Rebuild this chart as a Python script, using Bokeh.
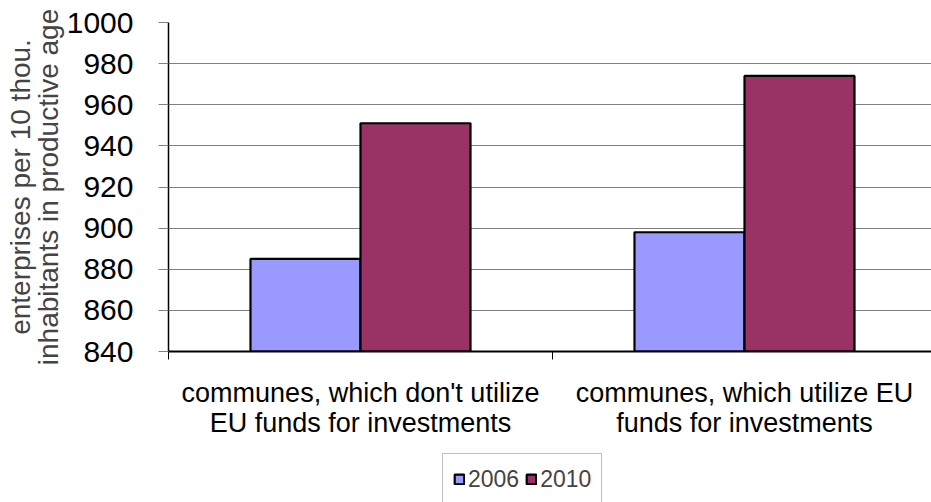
from bokeh.plotting import figure
from bokeh.layouts import column
from bokeh.models import Range1d, FixedTicker, ColumnDataSource, Legend, LegendItem
from bokeh.transform import dodge
from bokeh.embed import file_html
from bokeh.resources import INLINE

categories = ["communes, which don't utilize\nEU funds for investments",
              "communes, which utilize EU\nfunds for investments"]
years = ["2006", "2010"]
values_2006 = [885, 898]
values_2010 = [951, 974]
y_ticks = [840, 860, 880, 900, 920, 940, 960, 980, 1000]
y_title = "enterprises per 10 thou.\ninhabitants in productive age"

colors = ["#9999FF", "#993366"]
FONT = "Liberation Sans"

xpos = [i + 0.5 for i in range(len(categories))]
src = ColumnDataSource(dict(x=xpos, y2006=values_2006, y2010=values_2010))

p = figure(width=931, height=445, output_backend="svg", toolbar_location=None,
           x_range=Range1d(0, 1.987), y_range=Range1d(y_ticks[0], y_ticks[-1]),
           min_border_left=168, min_border_right=0, min_border_top=22,
           min_border_bottom=94)
p.outline_line_color = None
p.background_fill_color = "white"
p.border_fill_color = "white"

bw = 0.2865


def bars(fig, rng):
    rs = []
    for col, off, c in (("y2006", -bw / 2, colors[0]), ("y2010", bw / 2, colors[1])):
        rs.append(fig.vbar(x=dodge('x', off, range=rng), top=col, bottom=y_ticks[0],
                           width=bw, source=src, fill_color=c, line_color="black",
                           line_width=2.2))
    return rs


bars(p, p.x_range)

# y axis
p.yaxis.ticker = FixedTicker(ticks=y_ticks, minor_ticks=[])
p.yaxis.major_tick_out = 10
p.yaxis.major_tick_in = 0
p.yaxis.major_label_standoff = 25
p.yaxis.major_label_text_font = FONT
p.yaxis.major_label_text_font_size = "30px"
p.yaxis.major_label_text_color = "black"
p.yaxis.axis_line_color = "black"
p.yaxis.axis_line_width = 1.5
p.yaxis.major_tick_line_color = "#808080"
p.yaxis.axis_label = y_title
p.yaxis.axis_label_text_font = FONT
p.yaxis.axis_label_text_font_size = "28px"
p.yaxis.axis_label_text_font_style = "normal"
p.yaxis.axis_label_text_line_height = 0.9
p.yaxis.axis_label_standoff = 0

# x axis
p.xaxis.ticker = FixedTicker(ticks=xpos, minor_ticks=[0, 1, 2])
p.xaxis.major_label_overrides = {x: c for x, c in zip(xpos, categories)}
p.xaxis.major_tick_out = 0
p.xaxis.major_tick_in = 0
p.xaxis.minor_tick_out = 8
p.xaxis.minor_tick_in = 0
p.xaxis.minor_tick_line_color = "black"
p.xaxis.axis_line_color = "black"
p.xaxis.axis_line_width = 2
p.xaxis.major_label_standoff = 18
p.xaxis.major_label_text_font = FONT
p.xaxis.major_label_text_font_size = "27px"
p.xaxis.major_label_text_color = "black"
p.xaxis.major_label_text_line_height = 1.0

p.xgrid.grid_line_color = None
p.ygrid.grid_line_color = "#808080"
p.ygrid.grid_line_width = 1

# legend strip below the chart (its bars lie outside its visible range)
pl = figure(width=931, height=57, output_backend="svg", toolbar_location=None,
            x_axis_location=None, y_axis_location=None,
            x_range=Range1d(-3, -2), y_range=Range1d(1001, 1002),
            min_border=0)
pl.outline_line_color = None
pl.grid.grid_line_color = None
pl.background_fill_color = "white"
pl.border_fill_color = "white"
lr = bars(pl, pl.x_range)
legend = Legend(items=[LegendItem(label=y, renderers=[r]) for y, r in zip(years, lr)],
                orientation="horizontal", location=(274, -3),
                glyph_width=12, glyph_height=12, label_standoff=3, spacing=6,
                padding=10, margin=0, label_height=30,
                border_line_color="#808080",
                label_text_font=FONT, label_text_font_size="23px",
                background_fill_color="white", background_fill_alpha=1)
pl.add_layout(legend)

layout = column(p, pl, spacing=0)
open("out.html", "w").write(file_html(layout, INLINE))
